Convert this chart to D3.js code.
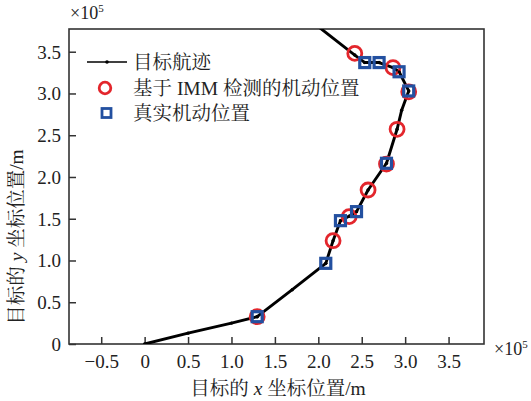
<!DOCTYPE html>
<html><head><meta charset="utf-8">
<script src="https://cdn.jsdelivr.net/npm/d3@7"></script>
<style>body{margin:0;background:#fff}svg{display:block}</style>
</head><body>
<script>
// Data (units of 1e5 m)
const trackX = [0, 0.5, 1.0, 1.296, 1.7, 2.086, 2.17, 2.255, 2.355, 2.44, 2.573, 2.785, 2.907, 2.96, 3.041, 2.93, 2.86, 2.70, 2.535, 2.42, 2.0];
const trackY = [0, 0.13, 0.25, 0.327, 0.65, 0.966, 1.237, 1.477, 1.53, 1.585, 1.844, 2.164, 2.571, 2.80, 3.03, 3.26, 3.31, 3.37, 3.37, 3.46, 3.80];
const detX = [1.296, 2.17, 2.355, 2.573, 2.785, 2.907, 3.041, 2.86, 2.42];
const detY = [0.327, 1.237, 1.525, 1.844, 2.155, 2.571, 3.02, 3.31, 3.48];
const trueX = [1.296, 2.086, 2.255, 2.44, 2.785, 3.041, 2.93, 2.70, 2.535];
const trueY = [0.327, 0.966, 1.477, 1.585, 2.164, 3.03, 3.26, 3.37, 3.37];
const xTicks = [-0.5, 0, 0.5, 1.0, 1.5, 2.0, 2.5, 3.0, 3.5];
const yTicks = [0, 0.5, 1.0, 1.5, 2.0, 2.5, 3.0, 3.5];
const legendLabels = ["目标航迹", "基于 IMM 检测的机动位置", "真实机动位置"];

const W = 531, H = 401;
const L = 69, R = 484, T = 29, B = 344;
const serif = "'Liberation Serif','Times New Roman','Noto Serif CJK SC','Noto Sans CJK SC',serif";
const axisColor = "#333";
const red = "#e3262c", blue = "#2350a0";

const svg = d3.select("body").append("svg").attr("width", W).attr("height", H);
const x = d3.scaleLinear().domain([-0.871, 3.908]).range([L, R]);
const y = d3.scaleLinear().domain([0, 3.772]).range([B, T]);
const fmt = d => d === 0 ? "0" : (d < 0 ? "\u22120.5" : d.toFixed(1));

// axes
const xAxis = d3.axisBottom(x).tickValues(xTicks).tickSize(-7).tickPadding(11).tickFormat(fmt);
const yAxis = d3.axisLeft(y).tickValues(yTicks).tickSize(-7).tickPadding(8).tickFormat(fmt);
const gx = svg.append("g").attr("transform", `translate(0,${B})`).call(xAxis);
const gy = svg.append("g").attr("transform", `translate(${L},0)`).call(yAxis);
[gx, gy].forEach(g => {
  g.select(".domain").remove();
  g.selectAll(".tick line").attr("stroke", axisColor).attr("stroke-width", 1.5);
  g.selectAll(".tick text").attr("fill", "#222").style("font-family", serif).style("font-size", "19px");
});
gy.selectAll(".tick text").attr("dy", "0.34em");
// box
svg.append("rect").attr("x", L).attr("y", T).attr("width", R - L).attr("height", B - T)
  .attr("fill", "none").attr("stroke", axisColor).attr("stroke-width", 1.6);

// clip
svg.append("clipPath").attr("id", "clip").append("rect")
  .attr("x", L).attr("y", T).attr("width", R - L).attr("height", B - T);

const track = trackX.map((v, i) => [v, trackY[i]]);
const line = d3.line().x(d => x(d[0])).y(d => y(d[1]));
const pg = svg.append("g").attr("clip-path", "url(#clip)");
pg.append("path").datum(track).attr("d", line).attr("fill", "none")
  .attr("stroke", "#000").attr("stroke-width", 2.9).attr("stroke-linejoin", "round");
pg.selectAll(".dot").data(track).enter().append("circle")
  .attr("cx", d => x(d[0])).attr("cy", d => y(d[1])).attr("r", 1.7).attr("fill", "#000");

// detected circles
pg.selectAll(".det").data(detX.map((v, i) => [v, detY[i]])).enter().append("circle")
  .attr("cx", d => x(d[0])).attr("cy", d => y(d[1])).attr("r", 7)
  .attr("fill", "none").attr("stroke", red).attr("stroke-width", 2.8);
// true squares
const s = 10;
pg.selectAll(".tru").data(trueX.map((v, i) => [v, trueY[i]])).enter().append("rect")
  .attr("x", d => x(d[0]) - s / 2).attr("y", d => y(d[1]) - s / 2).attr("width", s).attr("height", s)
  .attr("fill", "none").attr("stroke", blue).attr("stroke-width", 3.2);
pg.selectAll(".trud").data(trueX.map((v, i) => [v, trueY[i]])).enter().append("circle")
  .attr("cx", d => x(d[0])).attr("cy", d => y(d[1])).attr("r", 1.5).attr("fill", "#000");

// legend
const lg = svg.append("g");
const ly = [62, 88, 113];
lg.append("line").attr("x1", 87).attr("x2", 127).attr("y1", ly[0]).attr("y2", ly[0]).attr("stroke", "#000").attr("stroke-width", 1.4);
lg.append("circle").attr("cx", 107).attr("cy", ly[0]).attr("r", 1.8).attr("fill", "#000");
lg.append("circle").attr("cx", 105).attr("cy", ly[1]).attr("r", 5.8).attr("fill", "none").attr("stroke", red).attr("stroke-width", 2.8);
lg.append("rect").attr("x", 106.5 - 4.5).attr("y", ly[2] - 4.5).attr("width", 9).attr("height", 9).attr("fill", "none").attr("stroke", blue).attr("stroke-width", 2.8);
legendLabels.forEach((t, i) => {
  lg.append("text").attr("x", 133).attr("y", ly[i]).attr("dy", "0.36em")
    .style("font-family", serif).style("font-size", "19.5px").attr("fill", "#222").text(t);
});

// ×10^5 labels
function sci(xp, yp) {
  const t = svg.append("text").attr("x", xp).attr("y", yp).style("font-family", serif).style("font-size", "18px").attr("fill", "#222");
  t.append("tspan").text("×10");
  t.append("tspan").attr("dy", -7).style("font-size", "11px").text("5");
}
sci(70, 19);
sci(494, 355);

// axis titles
const xt = svg.append("text").attr("x", 278).attr("y", 395).attr("text-anchor", "middle")
  .style("font-family", serif).style("font-size", "19.5px").attr("fill", "#222");
xt.append("tspan").text("目标的 ");
xt.append("tspan").style("font-style", "italic").text("x");
xt.append("tspan").text(" 坐标位置/m");
const yt = svg.append("text").attr("transform", `translate(23,237) rotate(-90)`).attr("text-anchor", "middle")
  .style("font-family", serif).style("font-size", "19.5px").attr("fill", "#222");
yt.append("tspan").text("目标的 ");
yt.append("tspan").style("font-style", "italic").text("y");
yt.append("tspan").text(" 坐标位置/m");
</script>
</body></html>
